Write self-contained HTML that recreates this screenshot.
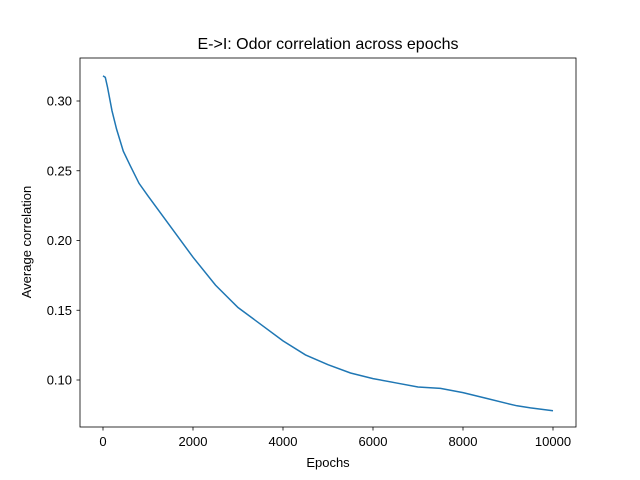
<!DOCTYPE html>
<html><head><meta charset="utf-8"><style>
body{margin:0;background:#fff;}
svg{display:block;font-family:"Liberation Sans","DejaVu Sans",sans-serif;}
</style></head><body>
<svg id="chart" width="640" height="480">
<rect width="640" height="480" fill="#fff"/>
<text x="328" y="49" text-anchor="middle" font-size="16">E-&gt;I: Odor correlation across epochs</text>
<g id="ticks"></g>
<path id="line" fill="none" stroke="#1f77b4" stroke-width="1.5"/>
<rect x="80" y="58" width="496" height="369" fill="none" stroke="#000" stroke-width="0.8"/>
<text x="328" y="467" text-anchor="middle" font-size="13">Epochs</text>
<text transform="translate(31,242) rotate(-90)" text-anchor="middle" font-size="13">Average correlation</text>
</svg>
<script>
const epochs=[0,50,100,200,300,450,600,800,1000,1500,2000,2500,3000,3500,4000,4500,5000,5500,6000,6500,7000,7500,8000,8500,9000,9200,9500,10000];
const correlation=[0.318,0.317,0.31,0.293,0.28,0.264,0.254,0.241,0.232,0.21,0.188,0.168,0.152,0.14,0.128,0.118,0.111,0.105,0.101,0.098,0.095,0.094,0.091,0.087,0.083,0.0815,0.080,0.078];
const xTicks=[0,2000,4000,6000,8000,10000];
const yTicks=[0.10,0.15,0.20,0.25,0.30];
const X=v=>103+v*0.045;
const Y=v=>380-(v-0.1)*1395;
const ns="http://www.w3.org/2000/svg";
const g=document.getElementById('ticks');
function mk(t,a){const e=document.createElementNS(ns,t);for(const k in a)e.setAttribute(k,a[k]);g.appendChild(e);return e;}
xTicks.forEach(v=>{
 const l=mk('line',{x1:X(v),x2:X(v),y1:427,y2:430.5,stroke:'#000','stroke-width':0.8});
 
 
 const t=mk('text',{x:X(v),y:446,'text-anchor':'middle','font-size':13});
 t.textContent=v;
 
 
});
yTicks.forEach(v=>{
 const l=mk('line',{x1:76.5,x2:80,y1:Y(v),y2:Y(v),stroke:'#000','stroke-width':0.8});
 
 
 const t=mk('text',{x:72,y:Y(v)+4.5,'text-anchor':'end','font-size':13});
 t.textContent=v.toFixed(2);
 
 
});
document.getElementById('line').setAttribute('d',epochs.map((e,i)=>(i?'L':'M')+X(e).toFixed(1)+' '+Y(correlation[i]).toFixed(1)).join(' '));
</script>
</body></html>
